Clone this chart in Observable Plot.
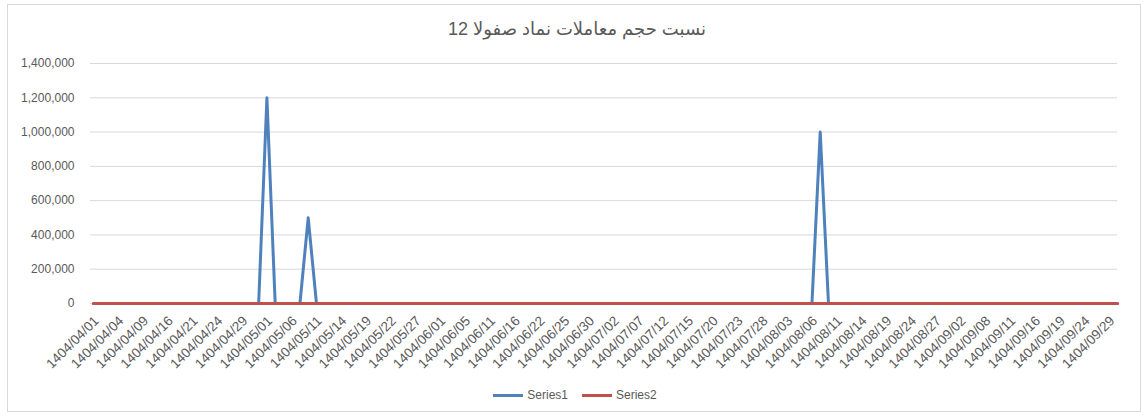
<!DOCTYPE html>
<html>
<head>
<meta charset="utf-8">
<script src="https://cdn.jsdelivr.net/npm/d3@7"></script>
<script src="https://cdn.jsdelivr.net/npm/@observablehq/plot@0.6"></script>
<style>
  body { margin: 0; background: #fff; }
  #wrap { position: relative; width: 1146px; height: 417px; font-family: "Liberation Sans", Arial, "DejaVu Sans", sans-serif; color: #595959; }
  #frame { position: absolute; left: 7px; top: 4px; width: 1134px; height: 408px; border: 1px solid #d9d9d9; box-sizing: border-box; }
  #title { position: absolute; top: 18px; left: 4px; width: 1146px; text-align: center; font-size: 18px; direction: rtl; color: #595959; }
  #chart { position: absolute; top: 50px; left: 0; }
  #legend { position: absolute; top: 388px; left: 2px; width: 1146px; display: flex; justify-content: center; align-items: center; font-size: 12px; color: #595959; }
  .sw { display: inline-block; width: 30px; height: 3px; margin-right: 4px; }
  .item { display: flex; align-items: center; margin: 0 7px; }
</style>
</head>
<body>
<div id="wrap">
  <div id="frame"></div>
  <div id="title">نسبت حجم معاملات نماد صفولا 12</div>
  <div id="chart"></div>
  <div id="legend"></div>
</div>
<script>
const dates = [
  "1404/04/01","1404/04/02","1404/04/03","1404/04/04","1404/04/07","1404/04/08","1404/04/09","1404/04/10","1404/04/11","1404/04/16",
  "1404/04/17","1404/04/18","1404/04/21","1404/04/22","1404/04/23","1404/04/24","1404/04/25","1404/04/28","1404/04/29","1404/04/30",
  "1404/04/31","1404/05/01","1404/05/04","1404/05/05","1404/05/06","1404/05/07","1404/05/08","1404/05/11","1404/05/12","1404/05/13",
  "1404/05/14","1404/05/15","1404/05/18","1404/05/19","1404/05/20","1404/05/21","1404/05/22","1404/05/25","1404/05/26","1404/05/27",
  "1404/05/28","1404/05/29","1404/06/01","1404/06/02","1404/06/04","1404/06/05","1404/06/08","1404/06/09","1404/06/11","1404/06/12",
  "1404/06/15","1404/06/16","1404/06/17","1404/06/18","1404/06/22","1404/06/23","1404/06/24","1404/06/25","1404/06/26","1404/06/29",
  "1404/06/30","1404/06/31","1404/07/01","1404/07/02","1404/07/05","1404/07/06","1404/07/07","1404/07/08","1404/07/09","1404/07/12",
  "1404/07/13","1404/07/14","1404/07/15","1404/07/16","1404/07/19","1404/07/20","1404/07/21","1404/07/22","1404/07/23","1404/07/26",
  "1404/07/27","1404/07/28","1404/07/29","1404/07/30","1404/08/03","1404/08/04","1404/08/05","1404/08/06","1404/08/07","1404/08/10",
  "1404/08/11","1404/08/12","1404/08/13","1404/08/14","1404/08/17","1404/08/18","1404/08/19","1404/08/20","1404/08/21","1404/08/24",
  "1404/08/25","1404/08/26","1404/08/27","1404/08/28","1404/09/01","1404/09/02","1404/09/04","1404/09/05","1404/09/08","1404/09/09",
  "1404/09/10","1404/09/11","1404/09/12","1404/09/15","1404/09/16","1404/09/17","1404/09/18","1404/09/19","1404/09/22","1404/09/23",
  "1404/09/24","1404/09/25","1404/09/26","1404/09/29","1404/09/30"
];

const series1 = [
  0,0,0,0,0,0,0,0,0,0,
  0,0,0,0,0,0,0,0,0,0,
  0,1200000,0,0,0,0,500000,0,0,0,
  0,0,0,0,0,0,0,0,0,0,
  0,0,0,0,0,0,0,0,0,0,
  0,0,0,0,0,0,0,0,0,0,
  0,0,0,0,0,0,0,0,0,0,
  0,0,0,0,0,0,0,0,0,0,
  0,0,0,0,0,0,0,0,1000000,0,
  0,0,0,0,0,0,0,0,0,0,
  0,0,0,0,0,0,0,0,0,0,
  0,0,0,0,0,0,0,0,0,0,
  0,0,0,0,0
];

const series2 = [
  0,0,0,0,0,0,0,0,0,0,
  0,0,0,0,0,0,0,0,0,0,
  0,0,0,0,0,0,0,0,0,0,
  0,0,0,0,0,0,0,0,0,0,
  0,0,0,0,0,0,0,0,0,0,
  0,0,0,0,0,0,0,0,0,0,
  0,0,0,0,0,0,0,0,0,0,
  0,0,0,0,0,0,0,0,0,0,
  0,0,0,0,0,0,0,0,0,0,
  0,0,0,0,0,0,0,0,0,0,
  0,0,0,0,0,0,0,0,0,0,
  0,0,0,0,0,0,0,0,0,0,
  0,0,0,0,0
];

const xTickLabels = [
  "1404/04/01","1404/04/04","1404/04/09","1404/04/16","1404/04/21","1404/04/24","1404/04/29",
  "1404/05/01","1404/05/06","1404/05/11","1404/05/14","1404/05/19","1404/05/22","1404/05/27",
  "1404/06/01","1404/06/05","1404/06/11","1404/06/16","1404/06/22","1404/06/25","1404/06/30",
  "1404/07/02","1404/07/07","1404/07/12","1404/07/15","1404/07/20","1404/07/23","1404/07/28",
  "1404/08/03","1404/08/06","1404/08/11","1404/08/14","1404/08/19","1404/08/24","1404/08/27",
  "1404/09/02","1404/09/08","1404/09/11","1404/09/16","1404/09/19","1404/09/24","1404/09/29"
];

const yTicks = [0, 200000, 400000, 600000, 800000, 1000000, 1200000, 1400000];

const seriesNames = ["Series1", "Series2"];
const seriesColors = ["#4F81BD", "#C0504D"];

const data1 = dates.map((d, i) => ({date: d, value: series1[i]}));
const data2 = dates.map((d, i) => ({date: d, value: series2[i]}));

const fontFam = '"Liberation Sans", Arial, sans-serif';

const chart = Plot.plot({
  width: 1146,
  height: 330,
  marginLeft: 93,
  marginRight: 29,
  marginTop: 13,
  marginBottom: 77,
  style: {fontFamily: fontFam, fontSize: "12px", color: "#595959", background: "transparent", overflow: "visible"},
  x: {type: "point", domain: dates, padding: 0, label: null},
  y: {domain: [0, 1400000], label: null},
  marks: [
    Plot.ruleY(yTicks, {stroke: "#d9d9d9", strokeWidth: 1, insetLeft: -3}),
    Plot.axisY({ticks: yTicks, tickSize: 0, tickPadding: 19, tickFormat: d3.format(","), label: null, fontSize: 12}),
    Plot.axisX({ticks: xTickLabels, tickSize: 0, tickRotate: -45, tickPadding: 15, dx: 3, label: null, fontSize: 13.5}),
    Plot.line(data1, {x: "date", y: "value", stroke: seriesColors[0], strokeWidth: 3, strokeLinejoin: "round", strokeLinecap: "round"}),
    Plot.line(data2, {x: "date", y: "value", stroke: seriesColors[1], strokeWidth: 3, strokeLinejoin: "round"})
  ]
});
document.getElementById("chart").appendChild(chart);

const legend = document.getElementById("legend");
seriesNames.forEach((name, i) => {
  const item = document.createElement("div");
  item.className = "item";
  const sw = document.createElement("span");
  sw.className = "sw";
  sw.style.background = seriesColors[i];
  const t = document.createElement("span");
  t.textContent = name;
  item.appendChild(sw);
  item.appendChild(t);
  legend.appendChild(item);
});
</script>
</body>
</html>
